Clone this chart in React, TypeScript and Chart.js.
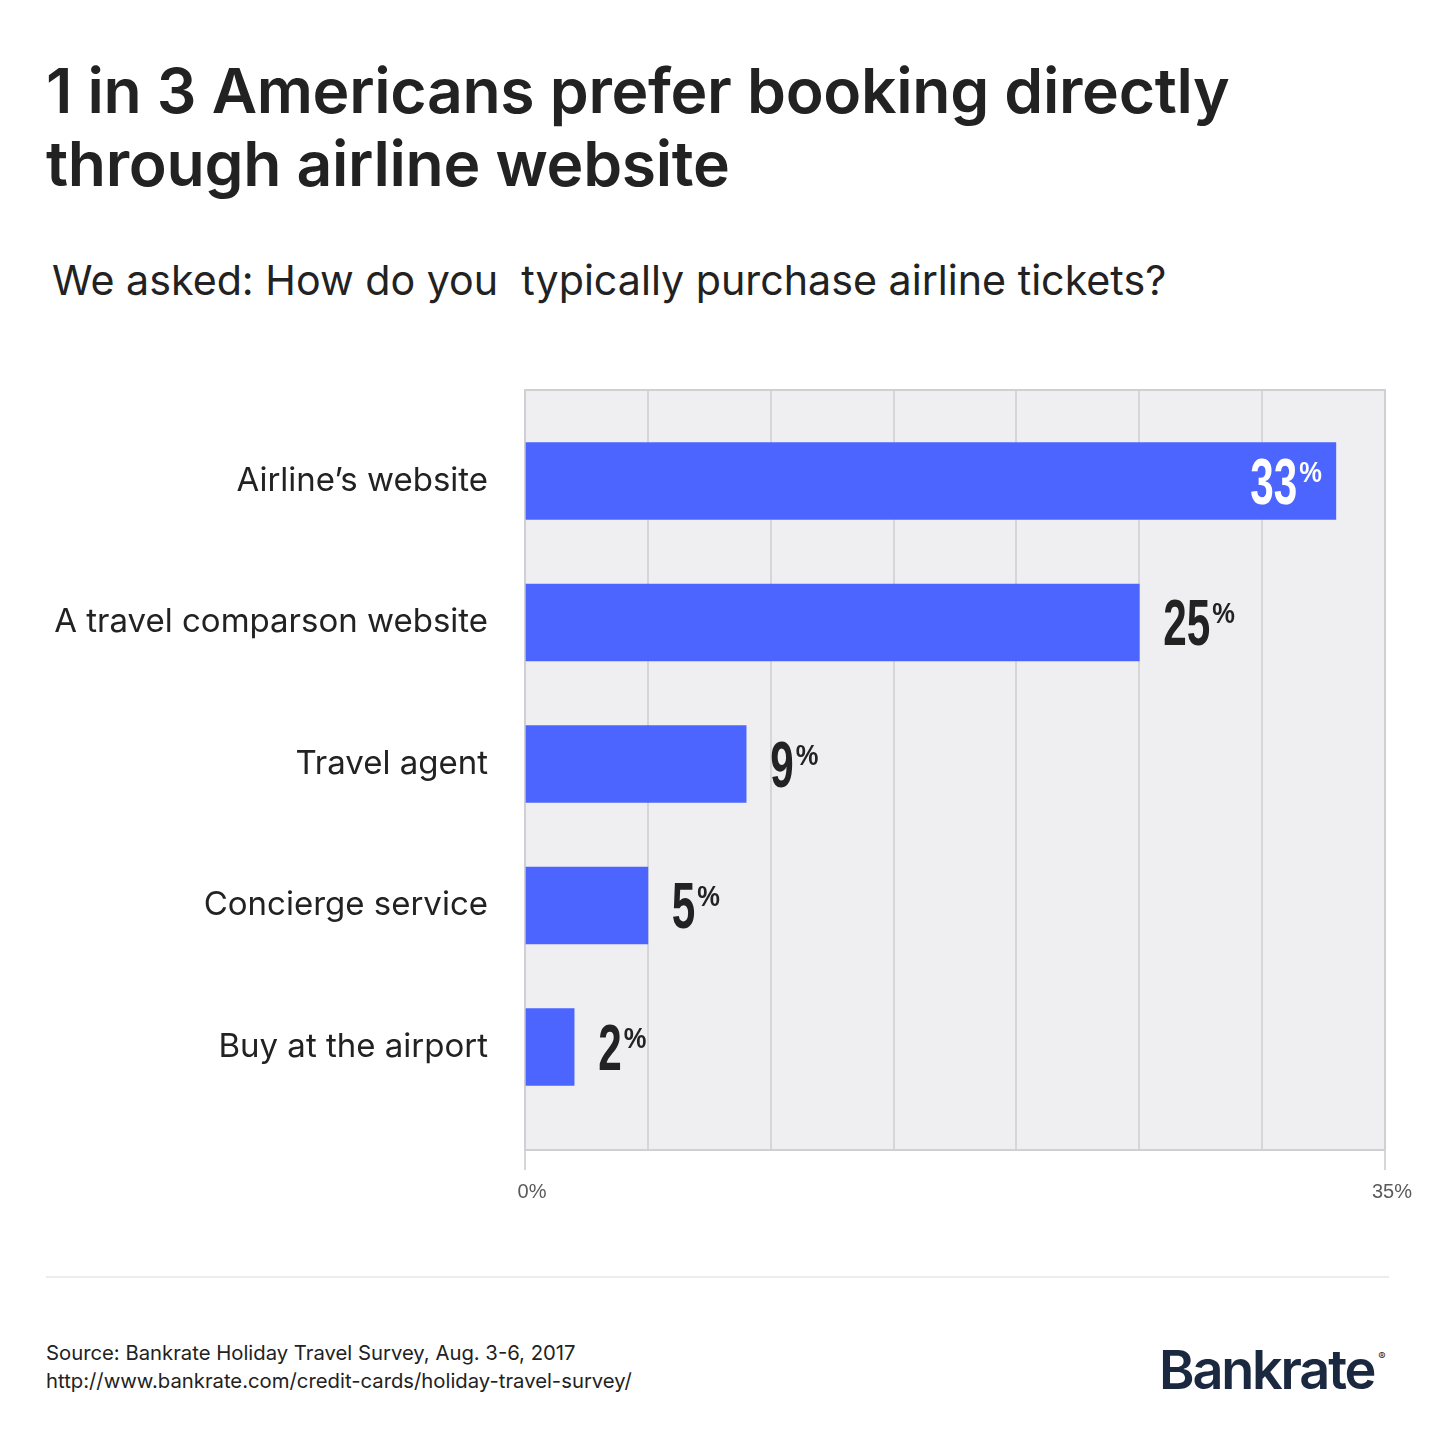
import React, { useEffect, useRef } from 'react';
import { Chart, registerables } from 'chart.js';

Chart.register(...registerables);

const titleLines = ['1 in 3 Americans prefer booking directly', 'through airline website'];
const subtitle = 'We asked: How do you  typically purchase airline tickets?';
const categories = [
  'Airline\u2019s website',
  'A travel comparson website',
  'Travel agent',
  'Concierge service',
  'Buy at the airport',
];
const values = [33, 25, 9, 5, 2];
const xMin = 0;
const xMax = 35;
const xStep = 5;
const xTickLabels: Record<number, string> = { 0: '0%', 35: '35%' };
const sourceLines = [
  'Source: Bankrate Holiday Travel Survey, Aug. 3-6, 2017',
  'http://www.bankrate.com/credit-cards/holiday-travel-survey/',
];

const BAR_COLOR = '#4c65ff';
const PLOT_BG = '#efeff2';
const GRID = '#d6d6d9';
const TEXT = '#222222';
const NUM_FONT = '"Liberation Sans Narrow", "Liberation Sans", sans-serif';

const plotBgPlugin = {
  id: 'plotBg',
  beforeDraw(chart: any) {
    const { ctx, chartArea } = chart;
    ctx.save();
    ctx.fillStyle = PLOT_BG;
    ctx.fillRect(chartArea.left, chartArea.top, chartArea.right - chartArea.left, chartArea.bottom - chartArea.top);
    ctx.restore();
  },
  beforeDatasetsDraw(chart: any) {
    const { ctx, chartArea } = chart;
    ctx.save();
    ctx.strokeStyle = '#d0d0d4';
    ctx.lineWidth = 2;
    ctx.strokeRect(chartArea.left, chartArea.top, chartArea.right - chartArea.left, chartArea.bottom - chartArea.top);
    ctx.restore();
  },
};

const valueLabelPlugin = {
  id: 'valueLabels',
  afterDatasetsDraw(chart: any) {
    const { ctx } = chart;
    const meta = chart.getDatasetMeta(0);
    const sxNum = 0.66;
    const sxPct = 0.85;
    meta.data.forEach((bar: any, i: number) => {
      const v = values[i];
      const num = String(v);
      ctx.save();
      ctx.font = `bold 64px ${NUM_FONT}`;
      const w1 = ctx.measureText(num).width * sxNum;
      ctx.font = `bold 30px ${NUM_FONT}`;
      const w2 = ctx.measureText('%').width * sxPct;
      const gap = 2;
      const total = w1 + gap + w2;
      const inside = v / xMax > 0.85;
      const left = inside ? bar.x - 14 - total : bar.x + 24;
      const y = bar.y;
      ctx.fillStyle = inside ? '#ffffff' : TEXT;
      ctx.textAlign = 'left';
      ctx.textBaseline = 'alphabetic';
      ctx.save();
      ctx.translate(left, y + 23);
      ctx.scale(sxNum, 1);
      ctx.font = `bold 64px ${NUM_FONT}`;
      ctx.fillText(num, 0, 0);
      ctx.restore();
      ctx.save();
      ctx.translate(left + w1 + gap, y + 1);
      ctx.scale(sxPct, 1);
      ctx.font = `bold 30px ${NUM_FONT}`;
      ctx.fillText('%', 0, 0);
      ctx.restore();
      ctx.restore();
    });
  },
};

function BarChart() {
  const ref = useRef<HTMLCanvasElement | null>(null);
  useEffect(() => {
    if (!ref.current) return;
    const chart = new Chart(ref.current, {
      type: 'bar',
      data: {
        datasets: [
          {
            data: values.map((v, i) => ({ x: v, y: i })),
            backgroundColor: BAR_COLOR,
            barThickness: 77,
            borderWidth: 0,
          },
        ],
      },
      options: {
        indexAxis: 'y',
        animation: false,
        responsive: false,
        devicePixelRatio: 1,
        layout: { padding: { top: 10, right: 55, left: 0, bottom: 0 } },
        plugins: { legend: { display: false }, tooltip: { enabled: false } },
        scales: {
          x: {
            type: 'linear',
            min: xMin,
            max: xMax,
            ticks: {
              stepSize: xStep,
              padding: 10,
              labelOffset: 7,
              color: '#5a5a5a',
              font: { family: '"Liberation Sans", Arial, sans-serif', size: 20 },
              callback: (v: any) => xTickLabels[Number(v)] ?? '',
            },
            grid: {
              color: GRID,
              lineWidth: 2,
              drawTicks: true,
              tickLength: 20,
              tickColor: (c: any) =>
                c.tick && (c.tick.value === xMin || c.tick.value === xMax) ? GRID : 'rgba(0,0,0,0)',
            },
            border: { display: false },
            afterFit: (s: any) => {
              s.height = 60;
              s.paddingLeft = 0;
              s.paddingRight = 0;
            },
          },
          y: {
            type: 'linear',
            offset: false,
            reverse: true,
            min: -0.643,
            max: categories.length - 1 + 0.728,
            afterBuildTicks: (axis: any) => {
              axis.ticks = categories.map((_, i) => ({ value: i }));
            },
            ticks: {
              padding: 37,
              color: TEXT,
              font: { family: 'Inter, sans-serif', size: 33 },
              callback: (v: any) => categories[Number(v)] ?? '',
            },
            grid: { display: false, drawTicks: false },
            border: { display: false },
            afterFit: (s: any) => {
              s.width = 525;
              s.paddingTop = 0;
              s.paddingBottom = 0;
            },
          },
        },
      },
      plugins: [plotBgPlugin, valueLabelPlugin],
    } as any);
    return () => chart.destroy();
  }, []);
  return <canvas ref={ref} width={1440} height={830} style={{ position: 'absolute', left: 0, top: 380, width: 1440, height: 830 }} />;
}

export default function App() {
  useEffect(() => {
    document.body.style.margin = '0';
  }, []);
  return (
    <div style={{ position: 'relative', width: 1440, height: 1440, background: '#fff', overflow: 'hidden', fontFamily: 'Inter, sans-serif', color: TEXT }}>
      <div style={{ position: 'absolute', left: 46, top: 54, fontSize: 62.4, fontWeight: 600, lineHeight: '73px', letterSpacing: -0.3, whiteSpace: 'nowrap' }}>
        {titleLines.map((l, i) => (
          <div key={i}>{l}</div>
        ))}
      </div>
      <div style={{ position: 'absolute', left: 52, top: 254, fontSize: 41.2, fontWeight: 400, lineHeight: '52px', whiteSpace: 'pre' }}>{subtitle}</div>
      <BarChart />
      <div style={{ position: 'absolute', left: 46, top: 1276, width: 1343, height: 2, background: '#ececec' }} />
      <div style={{ position: 'absolute', left: 46, top: 1339, fontSize: 20.3, lineHeight: '28px', whiteSpace: 'nowrap' }}>
        {sourceLines.map((l, i) => (
          <div key={i}>{l}</div>
        ))}
      </div>
      <div style={{ position: 'absolute', left: 1159, top: 1337, fontSize: 54, fontWeight: 600, lineHeight: '66px', letterSpacing: -2.2, color: '#1b2940', whiteSpace: 'nowrap' }}>
        Bankrate<span style={{ fontSize: 11, fontWeight: 400, verticalAlign: 'top', position: 'relative', top: 14, letterSpacing: 0, marginLeft: 4, lineHeight: '11px' }}>®</span>
      </div>
    </div>
  );
}
